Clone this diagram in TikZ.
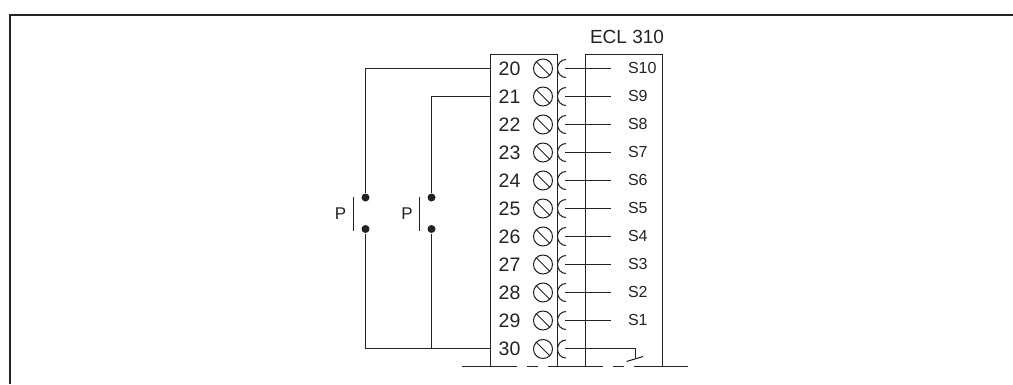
\documentclass[tikz,border=0pt]{standalone}
\usepackage{fontspec}
\setmainfont{Liberation Sans}
\usetikzlibrary{positioning}
\definecolor{mywire}{RGB}{35,35,35}

\begin{document}
\begin{tikzpicture}[x=1pt,y=-1pt,line width=1.05pt,color=mywire,
  termlabel/.style={inner sep=0pt,font=\fontsize{19.5}{22}\selectfont},
  senselabel/.style={inner sep=0pt,font=\fontsize{16}{18}\selectfont},
  swlabel/.style={inner sep=0pt,font=\fontsize{17}{19}\selectfont},
  screwnode/.style={circle,draw,inner sep=0pt,minimum size=19pt},
  contactdot/.style={circle,fill=mywire,inner sep=0pt,minimum size=8pt}]

  \useasboundingbox (0,0) rectangle (1013,384);

  % outer frame
  \coordinate (frameBL) at (10,384);
  \coordinate (frameTL) at (10,15);
  \coordinate (frameTR) at (1013,15);
  \draw[line width=1.5pt] (frameBL) -- (frameTL) -- (frameTR);

  % terminal block and controller outline
  \coordinate (blockTL) at (490.5,54.5);
  \coordinate (blockTR) at (557.5,54.5);
  \coordinate (blockBL) at (490.5,366.5);
  \coordinate (blockBR) at (557.5,366.5);
  \coordinate (unitTL) at (585.5,54.5);
  \coordinate (unitTR) at (662.5,54.5);
  \coordinate (unitBL) at (585.5,366.5);
  \coordinate (unitBR) at (662.5,366.5);
  \draw (blockBL) -- (blockTL) -- (blockTR) -- (blockBR);
  \draw (unitBL) -- (unitTL) -- (unitTR) -- (unitBR);
  \node[termlabel,font=\fontsize{19}{21}\selectfont,anchor=base] (title) at (627,43) {ECL 310};

  % terminals 20..29 with their sensors
  \foreach \num/\sens [count=\i from 0] in {20/S10,21/S9,22/S8,23/S7,24/S6,25/S5,26/S4,27/S3,28/S2,29/S1} {
    \node[termlabel] (t\num) at (509.5,68.5+\i*28) {\num};
    \node[screwnode] (screw\num) at (543,68.5+\i*28) {};
    \draw (screw\num.north west) -- (screw\num.south east);
    \draw (566,77.5+\i*28) arc (90:270:8.5 and 9);
    \coordinate (plug\num) at (565,68.5+\i*28);
    \coordinate (wire\num) at (610.5,68.5+\i*28);
    \draw (plug\num) -- (wire\num);
    \node[senselabel,anchor=west] (s\num) at (627.5,68+\i*28) {\sens};
  }

  % terminal 30 with the common contact
  \node[termlabel] (t30) at (509.5,349) {30};
  \node[screwnode] (screw30) at (543,349) {};
  \draw (screw30.north west) -- (screw30.south east);
  \draw (566,358) arc (90:270:8.5 and 9);
  \coordinate (plug30) at (565,348.5);
  \coordinate (swA) at (635.5,348.5);
  \coordinate (swB) at (635.5,358);
  \coordinate (swC) at (626.5,361.5);
  \coordinate (swD) at (643,356.5);
  \draw (plug30) -- (swA) -- (swB);
  \draw (swC) -- (swD);

  % dashed rail
  \draw (462,366.5) -- (517,366.5);
  \draw (527,366.5) -- (538,366.5);
  \draw (548,366.5) -- (602.5,366.5);
  \draw (612.5,366.5) -- (624,366.5);
  \draw (634,366.5) -- (688,366.5);

  % pressure switches
  \node[contactdot] (p1top) at (365.5,197.5) {};
  \node[contactdot] (p1bot) at (365.5,229) {};
  \node[contactdot] (p2top) at (431.5,197.5) {};
  \node[contactdot] (p2bot) at (431.5,229) {};
  \coordinate (bar1a) at (353.5,197);
  \coordinate (bar1b) at (353.5,231);
  \coordinate (bar2a) at (419.5,197);
  \coordinate (bar2b) at (419.5,231);
  \draw (bar1a) -- (bar1b);
  \draw (bar2a) -- (bar2b);
  \node[swlabel] (p1lab) at (340.5,214) {P};
  \node[swlabel] (p2lab) at (407,214) {P};

  % wiring to terminals
  \coordinate (in20) at (490.5,68.5);
  \coordinate (in21) at (490.5,96.5);
  \coordinate (in30) at (490.5,348.5);
  \draw (in20) -| (p1top);
  \draw (in21) -| (p2top);
  \draw (p1bot) |- (in30);
  \draw (p2bot) -- (p2bot |- in30);

\end{tikzpicture}
\end{document}
